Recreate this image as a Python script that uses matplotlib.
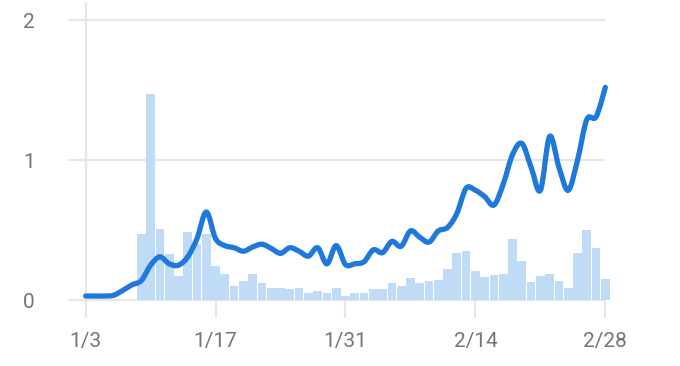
import numpy as np
import pandas as pd
import matplotlib
matplotlib.use('Agg')
import matplotlib.pyplot as plt
from matplotlib.path import Path
from matplotlib.patches import PathPatch

plt.rcParams['font.family'] = ['Roboto', 'DejaVu Sans']

# daily values, 1/3 .. 2/28
dates = pd.date_range('2021-01-03', '2021-02-28', freq='D')
daily = [0, 0, 0, 0, 0, 0, 0.475, 1.47, 0.51, 0.33,
         0.17, 0.49, 0.40, 0.47, 0.245, 0.19, 0.10, 0.14, 0.19, 0.12,
         0.085, 0.085, 0.08, 0.085, 0.05, 0.065, 0.05, 0.09, 0.03, 0.05,
         0.055, 0.08, 0.08, 0.125, 0.10, 0.16, 0.12, 0.14, 0.145, 0.225,
         0.34, 0.35, 0.21, 0.165, 0.18, 0.19, 0.44, 0.28, 0.13, 0.175,
         0.19, 0.14, 0.085, 0.335, 0.50, 0.37, 0.15]
# rolling average line
average = [0.03, 0.03, 0.03, 0.035, 0.07, 0.11, 0.14, 0.25, 0.31, 0.26,
           0.25, 0.31, 0.44, 0.63, 0.44, 0.39, 0.375, 0.35, 0.38, 0.40,
           0.37, 0.335, 0.375, 0.35, 0.315, 0.375, 0.26, 0.39, 0.255, 0.26,
           0.275, 0.36, 0.34, 0.42, 0.385, 0.495, 0.45, 0.415, 0.495, 0.52,
           0.62, 0.80, 0.785, 0.74, 0.68, 0.83, 1.04, 1.12, 0.95, 0.785,
           1.17, 0.95, 0.785, 1.0, 1.29, 1.31, 1.52]
tick_dates = ['2021-01-03', '2021-01-17', '2021-01-31', '2021-02-14', '2021-02-28']
y_ticks = [0, 1, 2]

grey_text = '#757575'
grid_col = '#e4e6ea'


def smooth_path(xs, ys):
    # catmull-rom through the points, drawn as cubic beziers
    pts = np.column_stack([xs, ys]).astype(float)
    ext = np.vstack([pts[0], pts, pts[-1]])
    verts = [pts[0]]
    codes = [Path.MOVETO]
    for i in range(len(pts) - 1):
        p0, p1, p2, p3 = ext[i], ext[i + 1], ext[i + 2], ext[i + 3]
        verts += [p1 + (p2 - p0) / 6, p2 - (p3 - p1) / 6, p2]
        codes += [Path.CURVE4] * 3
    return Path(verts, codes)


x = np.arange(len(dates))
tick_idx = [dates.get_loc(pd.Timestamp(d)) for d in tick_dates]
tick_labels = ['{}/{}'.format(pd.Timestamp(d).month, pd.Timestamp(d).day) for d in tick_dates]

fig = plt.figure(figsize=(6.8, 3.66), dpi=100)
ax = fig.add_axes([0.1, 0.130, 0.7984, 0.8645])

x0, x1 = -1.9, 56.6
y0, y1 = -0.13, 2.13
ax.set_xlim(x0, x1)
ax.set_ylim(y0, y1)

for s in ax.spines.values():
    s.set_visible(False)

ax.hlines(y_ticks, x0, x[-1], color=grid_col, lw=1.5, zorder=0)
ax.vlines(x[0], y0, y1, color=grid_col, lw=1.5, zorder=0)
ax.vlines(tick_idx[1:], y0, 0, color=grid_col, lw=1.5, zorder=0)

ax.bar(x, daily, width=0.94, color='#bfdbf6', zorder=1, clip_on=False)
ax.add_patch(PathPatch(smooth_path(x, average), facecolor='none',
                       edgecolor='#1f78dc', lw=3.8, joinstyle='round',
                       capstyle='round', zorder=2))

ax.set_xticks(tick_idx)
ax.set_xticklabels(tick_labels)
ax.set_yticks(y_ticks)
ax.set_yticklabels([str(v) for v in y_ticks], ha='right')
ax.tick_params(axis='x', length=0, pad=10, labelsize=15, labelcolor=grey_text)
ax.tick_params(axis='y', length=0, pad=24, labelsize=15, labelcolor=grey_text)

fig.savefig('out.png', dpi=100)
